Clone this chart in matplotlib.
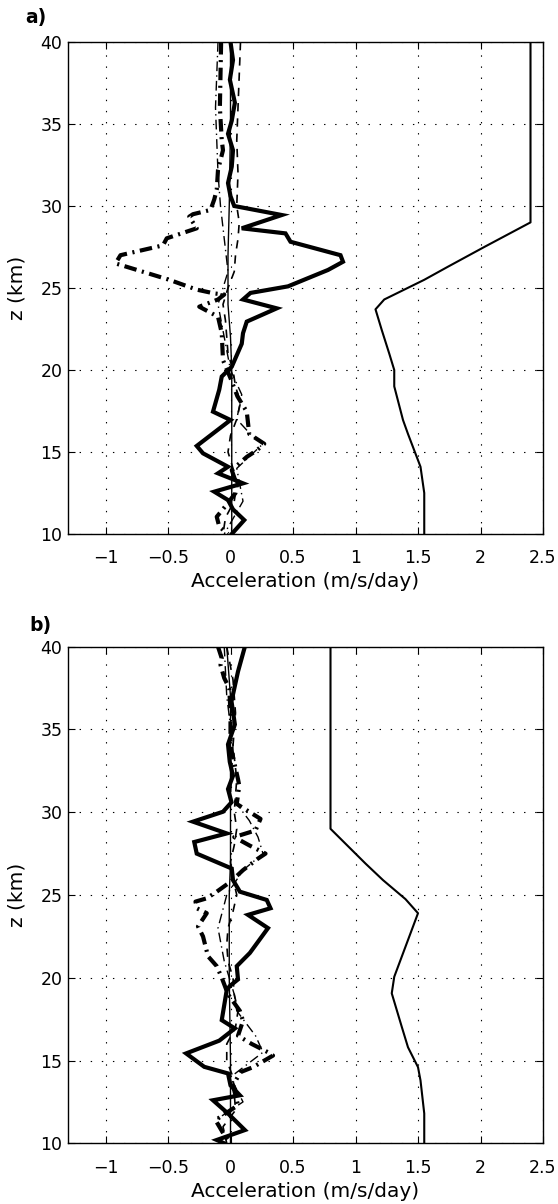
import numpy as np
import matplotlib
matplotlib.use('Agg')
import matplotlib.pyplot as plt

plt.rcParams['font.family'] = ['DejaVu Sans']
plt.rcParams['lines.scale_dashes'] = False

# ---- panel a ----
za_thick = [40, 38.9, 37.7, 36.3, 35.2, 34.4, 33.4, 32.4, 31.4, 30.6, 30.0, 29.45, 28.64, 28.33,
            27.82, 27.0, 26.6, 26.1, 25.1, 24.7, 24.3, 23.76, 22.95, 22.24, 21.6, 20.2, 19.6,
            18.8, 17.46, 16.95, 15.37, 14.92, 14.1, 13.7, 13.09, 12.58, 12.07, 11.5, 10.85, 10.0]
xa_thick = [0.0, 0.02, -0.005, 0.035, 0.01, -0.02, 0.02, 0.01, -0.02, 0.0, 0.03, 0.41, 0.09, 0.44,
            0.48, 0.88, 0.90, 0.78, 0.46, 0.16, 0.10, 0.37, 0.13, 0.10, 0.09, 0.01, -0.07,
            -0.09, -0.14, 0.0, -0.27, -0.22, -0.02, -0.10, 0.10, -0.13, -0.02, 0.02, 0.11, 0.01]

za_dd = [40, 38, 36, 34, 33.4, 32.2, 31.0, 30.4, 29.76, 29.5, 29.35, 28.64, 28.03, 27.6, 27.0,
         26.5, 25.5, 24.9, 24.67, 24.6, 24.3, 23.86, 23.25, 22.25, 20.6, 19.5, 18.4, 17.46,
         16.1, 15.5, 15.1, 14.7, 13.9, 13.0, 12.5, 11.8, 11.05, 10.45, 10.0]
xa_dd = [-0.075, -0.08, -0.085, -0.07, -0.06, -0.10, -0.11, -0.13, -0.16, -0.30, -0.33, -0.27,
         -0.51, -0.54, -0.88, -0.92, -0.49, -0.27, -0.13, -0.05, -0.10, -0.25, -0.10, -0.07,
         -0.06, 0.0, 0.055, 0.13, 0.15, 0.27, 0.21, 0.13, 0.01, 0.05, 0.04, -0.03, -0.11, -0.09, -0.02]

za_dash = [40, 38, 36, 34, 32, 30, 29, 28, 27, 26, 25, 24, 23, 22, 21, 20, 19, 18, 17, 16, 15,
           14, 13, 12, 11, 10]
xa_dash = [0.08, 0.07, 0.06, 0.05, 0.06, 0.05, 0.07, 0.06, 0.04, 0.03, -0.02, -0.06, -0.04,
           -0.03, -0.02, 0.02, 0.04, 0.08, 0.05, 0.0, -0.02, 0.02, 0.05, 0.03, -0.04, -0.06]

za_tdd = [40, 36, 32, 30, 28, 26, 24, 22, 20, 18.5, 17, 16, 15.5, 14, 12, 10]
xa_tdd = [-0.1, -0.12, -0.1, -0.08, -0.05, -0.02, -0.1, -0.05, 0.0, 0.09, 0.05, 0.17, 0.26,
          0.05, 0.1, -0.05]

za_thin = [40, 35, 30, 27, 25, 24, 23, 22, 20, 15, 10]
xa_thin = [0.0, 0.0, -0.01, -0.02, -0.02, -0.02, -0.01, 0.0, 0.01, 0.01, 0.01]

za_prof = [40, 29.0, 27.5, 26.3, 25.5, 24.3, 23.7, 22.44, 21.0, 20.0, 19.0, 16.95, 16.1, 14.9,
           14.1, 12.5, 10.0]
xa_prof = [2.40, 2.40, 2.03, 1.74, 1.55, 1.23, 1.16, 1.21, 1.27, 1.31, 1.31, 1.38, 1.42, 1.48,
           1.52, 1.55, 1.55]

# ---- panel b ----
zb_thick = [40, 38.5, 36.7, 35.3, 34.1, 33.05, 32.2, 31.4, 30.6, 30.03, 29.43, 28.72, 28.2,
            27.5, 26.6, 25.9, 25.2, 24.7, 24.2, 23.8, 23.0, 21.5, 20.7, 19.9, 19.5, 19.26,
            17.44, 16.94, 16.2, 15.43, 14.62, 14.22, 13.5, 12.9, 12.6, 11.8, 10.8, 10.2, 10.0]
xb_thick = [0.115, 0.06, 0.008, 0.035, -0.02, -0.006, 0.02, -0.02, 0.008, -0.06, -0.30, -0.03,
            -0.29, -0.27, 0.01, 0.02, 0.075, 0.29, 0.32, 0.14, 0.30, 0.155, 0.05, 0.06, -0.006,
            -0.03, -0.07, 0.035, -0.09, -0.355, -0.21, -0.02, 0.0, 0.075, -0.14, -0.02, 0.115,
            -0.11, -0.05]

zb_dd = [40, 39.3, 38.9, 38.1, 37.5, 36, 34, 33, 32.0, 31.6, 30.5, 29.6, 28.9, 28.5, 28.0,
         27.5, 27.2, 26.5, 25.8, 25.2, 24.8, 24.6, 24.2, 23.9, 23.1, 22.5, 21.3, 20.7, 20.0,
         19.0, 18.0, 17.4, 16.5, 16.0, 15.5, 15.3, 14.6, 14.3, 13.5, 12.3, 11.4, 10.5, 10.0]
xb_dd = [-0.10, -0.07, -0.08, -0.05, -0.01, 0.0, 0.0, 0.03, 0.06, 0.07, 0.05, 0.24, 0.20, 0.03,
         0.15, 0.28, 0.22, 0.10, 0.0, -0.11, -0.19, -0.28, -0.27, -0.19, -0.26, -0.22, -0.18,
         -0.11, -0.07, -0.02, 0.075, 0.10, 0.06, 0.17, 0.30, 0.34, 0.18, 0.08, 0.02, 0.06,
         -0.12, -0.05, 0.0]

zb_dash = [40, 38, 36, 34, 32, 30, 29, 28, 27, 26, 25, 24, 23, 22, 21, 20, 19, 18, 17, 16, 15,
           14, 13, 12, 11, 10]
xb_dash = [-0.03, 0.02, 0.04, 0.02, 0.05, 0.03, 0.05, 0.03, 0.0, 0.02, 0.05, 0.02, -0.02,
           -0.03, -0.02, 0.02, 0.03, 0.06, 0.04, -0.03, -0.03, 0.02, 0.03, 0.04, -0.06, -0.03]

zb_tdd = [40, 37, 34, 31, 29.5, 28.5, 27.5, 26.5, 25, 23, 21, 19, 18, 16.5, 15.5, 14, 12.5,
          11.5, 10]
xb_tdd = [-0.05, -0.03, 0.02, 0.0, 0.15, 0.22, 0.26, 0.1, -0.03, -0.1, -0.05, 0.03, 0.05, 0.2,
          0.26, 0.0, 0.1, -0.1, -0.05]

zb_thin = [40, 37, 33, 30, 27, 25, 20, 15, 10]
xb_thin = [-0.03, 0.0, 0.0, 0.0, 0.0, -0.01, -0.01, 0.0, 0.0]

zb_prof = [40, 29.0, 26.9, 25.9, 24.75, 23.9, 20.06, 19.06, 17.04, 15.8, 14.6, 13.8, 11.8, 10.0]
xb_prof = [0.80, 0.80, 1.08, 1.22, 1.40, 1.50, 1.31, 1.29, 1.37, 1.42, 1.50, 1.52, 1.55, 1.55]

xticks = [-1, -0.5, 0, 0.5, 1, 1.5, 2, 2.5]
xticklabels = ['\u22121', '\u22120.5', '0', '0.5', '1', '1.5', '2', '2.5']
yticks = [10, 15, 20, 25, 30, 35, 40]

W, H = 558, 1204
fig = plt.figure(figsize=(W / 100, H / 100), dpi=100)

def panel(rect, prof, thick, dd, dash, tdd, thin, tag, tagpos):
    ax = fig.add_axes(rect)
    ax.plot(prof[1], prof[0], color='k', lw=1.5)
    ax.plot(thin[1], thin[0], color='k', lw=1.0)
    ax.plot(dash[1], dash[0], color='k', lw=1.2, dashes=(6, 5))
    ax.plot(tdd[1], tdd[0], color='k', lw=1.0, dashes=(7, 3, 1, 3))
    ax.plot(dd[1], dd[0], color='k', lw=3.0, dashes=(9, 4, 1.5, 4))
    ax.plot(thick[1], thick[0], color='k', lw=3.0, solid_joinstyle='miter')
    ax.set_xlim(-1.3, 2.5)
    ax.set_ylim(10, 40)
    ax.set_xticks(xticks)
    ax.set_xticklabels(xticklabels)
    ax.set_yticks(yticks)
    ax.tick_params(direction='in', length=5, width=0.8, top=True, right=True, labelsize=12.5)
    ax.tick_params(axis='x', pad=11)
    ax.tick_params(axis='y', pad=4)
    ax.grid(True, color='k', lw=0.8, linestyle=(0, (1, 7)))
    for s in ax.spines.values():
        s.set_linewidth(1.0)
    ax.set_xlabel('Acceleration (m/s/day)', fontsize=14.5)
    ax.set_ylabel('z (km)', fontsize=14.5)
    ax.xaxis.set_label_coords(0.5, -0.078)
    ax.yaxis.set_label_coords(-0.088, 0.5)
    fig.text(tagpos[0] / W, 1 - tagpos[1] / H, tag, fontsize=13.5, fontweight='bold',
             ha='left', va='center')
    return ax

panel([68 / W, 1 - 534 / H, 475 / W, 492 / H],
      (za_prof, xa_prof), (za_thick, xa_thick), (za_dd, xa_dd),
      (za_dash, xa_dash), (za_tdd, xa_tdd), (za_thin, xa_thin), 'a)', (25, 18))
panel([68 / W, 1 - 1143.3 / H, 475 / W, 496.6 / H],
      (zb_prof, xb_prof), (zb_thick, xb_thick), (zb_dd, xb_dd),
      (zb_dash, xb_dash), (zb_tdd, xb_tdd), (zb_thin, xb_thin), 'b)', (29, 626))

fig.savefig('out.png', dpi=100)
